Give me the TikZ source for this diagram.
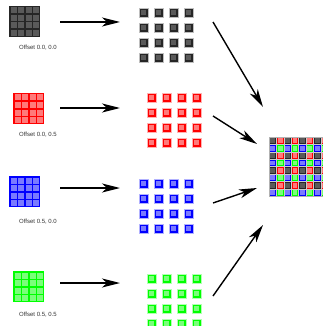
\documentclass[tikz,border=0pt]{standalone}
\usepackage{fontspec}
\setmainfont{Liberation Sans}
\usetikzlibrary{arrows.meta}
\definecolor{kOut}{HTML}{262626}
\definecolor{kIn}{HTML}{5A5A5A}
\definecolor{rOut}{HTML}{FF0000}
\definecolor{rIn}{HTML}{FF7A7A}
\definecolor{bOut}{HTML}{0000FF}
\definecolor{bIn}{HTML}{7A7AFF}
\definecolor{gOut}{HTML}{00FF00}
\definecolor{gIn}{HTML}{7AFF7A}
\definecolor{lbl}{HTML}{333333}
\newcommand\smallgrid[5]{%
  \node[fill=#4,minimum size=31pt,inner sep=0pt,anchor=north west] (#1) at (#2,#3) {};
  \foreach \i in {0,...,3}{\foreach \j in {0,...,3}{
    \fill[#5] ({#2+1.5+7.5*\i},{#3+1.5+7.5*\j}) rectangle ++(6,6);}}
}
\newcommand\midgrid[4]{%
  \foreach \i in {0,...,3}{\foreach \j in {0,...,3}{
    \filldraw[fill=#3,draw=#3!30,line width=0.8pt] ({#1+15*\i},{#2+15*\j}) rectangle ++(9,9);
    \fill[#4] ({#1+15*\i+2.2},{#2+15*\j+2.2}) rectangle ++(4.6,4.6);}}
}
\newcommand\fcell[4]{%
  \fill[#3] ({269+7.4*#1},{137+7.4*#2}) rectangle ++(7.4,7.4);
  \fill[#4] ({269+7.4*#1+1.3},{137+7.4*#2+1.3}) rectangle ++(4.8,4.8);
}
\tikzset{
  arr/.style={line width=1.4pt,-{Stealth[length=18pt,width=9pt,inset=5pt]}},
  lab/.style={font=\fontsize{6}{7}\selectfont,text=lbl,inner sep=0pt}
}
\begin{document}
\begin{tikzpicture}[x=1pt,y=-1pt]
\useasboundingbox (0,0) rectangle (323,326);
% small source grids
\smallgrid{sk}{9}{6}{kOut}{kIn}
\smallgrid{sr}{13}{93}{rOut}{rIn}
\smallgrid{sb}{9}{176}{bOut}{bIn}
\smallgrid{sg}{13}{271}{gOut}{gIn}
\node[lab] (lk) at (38,48) {Offset 0.0, 0.0};
\node[lab] (lr) at (38,135) {Offset 0.0, 0.5};
\node[lab] (lb) at (38,222) {Offset 0.5, 0.0};
\node[lab] (lg) at (38,315) {Offset 0.5, 0.5};
% middle spread grids
\midgrid{139}{8}{kOut}{kIn}
\midgrid{147}{93}{rOut}{rIn}
\midgrid{139}{179}{bOut}{bIn}
\midgrid{147}{274}{gOut}{gIn}
% final interleaved grid
\foreach \a in {0,2,4,6}{\foreach \b in {0,2,4,6}{
  \pgfmathtruncatemacro\ap{\a+1}
  \pgfmathtruncatemacro\bp{\b+1}
  \fcell{\a}{\b}{kOut}{kIn}
  \fcell{\ap}{\b}{rOut}{rIn}
  \fcell{\a}{\bp}{bOut}{bIn}
  \fcell{\ap}{\bp}{gOut}{gIn}
}}
\foreach \k in {1,...,7}{
  \draw[gray!40,line width=0.25pt] ({269+7.4*\k},137) -- ++(0,59.2);
  \draw[gray!40,line width=0.25pt] (269,{137+7.4*\k}) -- ++(59.2,0);
}
\draw[gray!60,line width=0.4pt] (269,137) rectangle (328.2,196.2);
\node[inner sep=0pt,minimum width=59pt,minimum height=59pt,anchor=north west] (fin) at (269,137) {};
% arrow end points
\coordinate (h1a) at (60,22);  \coordinate (h1b) at (120,22);
\coordinate (h2a) at (60,108); \coordinate (h2b) at (120,108);
\coordinate (h3a) at (60,188); \coordinate (h3b) at (120,188);
\coordinate (h4a) at (60,283); \coordinate (h4b) at (120,283);
\coordinate (d1a) at (213,22);  \coordinate (d1b) at (263,107);
\coordinate (d2a) at (213,116); \coordinate (d2b) at (257,144);
\coordinate (d3a) at (213,203); \coordinate (d3b) at (257,188);
\coordinate (d4a) at (213,296); \coordinate (d4b) at (263,225);
\foreach \n in {h1,h2,h3,h4,d1,d2,d3,d4}{\draw[arr] (\n a) -- (\n b);}
\end{tikzpicture}
\end{document}
